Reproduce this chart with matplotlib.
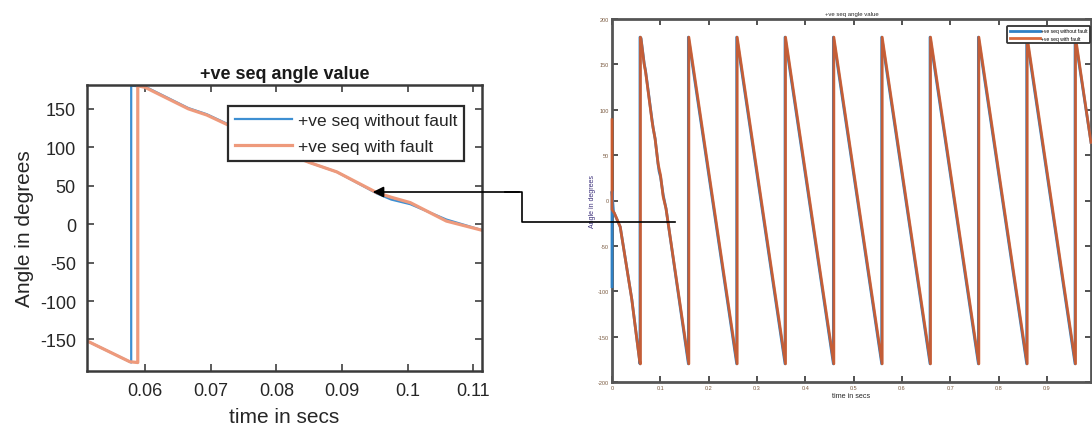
import matplotlib
matplotlib.use("Agg")
import matplotlib.pyplot as plt
from matplotlib.lines import Line2D
from matplotlib.patches import FancyArrowPatch

plt.rcParams['font.family'] = ['Liberation Sans', 'DejaVu Sans']
plt.rcParams['axes.unicode_minus'] = False

# zoomed-in window (left panel)
zoom_t_blue = [0.0512, 0.0577, 0.0579, 0.0579, 0.0600, 0.0666, 0.0694, 0.0724, 0.0800, 0.0830,
               0.0851, 0.0892, 0.0953, 0.0975, 0.1004, 0.1059, 0.1118]
zoom_v_blue = [-152, -179, -180, 180, 179, 151, 143, 131, 100, 88, 80, 68, 40, 32, 26, 6, -9]
zoom_t_fault = [0.0512, 0.0577, 0.0589, 0.0589, 0.0600, 0.0666, 0.0694, 0.0724, 0.0800, 0.0830,
                0.0851, 0.0892, 0.0953, 0.0975, 0.1004, 0.1059, 0.1118]
zoom_v_fault = [-152, -179, -180, 180, 178, 150, 142, 130, 99, 87, 80, 68, 41, 35, 28, 4, -9]

# start-up transient of the full run (right panel)
start_t_blue = [0.0, 0.0, 0.003, 0.017, 0.041]
start_v_blue = [-95, 10, -12, -29, -109]
start_t_fault = [0.0, 0.0, 0.005, 0.017, 0.041]
start_v_fault = [89, -10, -14, -29, -109]

# later wrap-around instants (angle jumps -180 -> 180)
jumps_blue = [0.158, 0.258, 0.358, 0.458, 0.558, 0.658, 0.758, 0.858, 0.958]
jumps_fault = [0.159, 0.259, 0.359, 0.459, 0.559, 0.659, 0.759, 0.859, 0.959]
trough, peak = -180, 180
end_t, end_v = 0.991, 64

labels = ['+ve seq without fault', '+ve seq with fault']


def full_series(st, sv, zt, zv, jumps):
    t = list(st) + list(zt)
    v = list(sv) + list(zv)
    for tj in jumps:
        t += [tj, tj]
        v += [trough, peak]
    t.append(end_t)
    v.append(end_v)
    return t, v


W, H = 1092, 435


def fx(px):
    return px / W


def fy(py):
    return 1 - py / H


fig = plt.figure(figsize=(W / 100, H / 100), dpi=100)
txt = '#262626'

# ---- left: zoomed view
ax = fig.add_axes([fx(87), fy(372), 395 / W, 286 / H])
ax.plot(zoom_t_blue, zoom_v_blue, color='#3d8fd2', lw=1.6, label=labels[0])
ax.plot(zoom_t_fault, zoom_v_fault, color='#ee9a7c', lw=2.3, label=labels[1])
ax.set_xlim(0.05117, 0.11132)
ax.set_ylim(-191, 181)
ax.set_xticks([0.06, 0.07, 0.08, 0.09, 0.1, 0.11])
ax.set_xticklabels(['0.06', '0.07', '0.08', '0.09', '0.1', '0.11'])
ax.set_yticks([-150, -100, -50, 0, 50, 100, 150])
ax.tick_params(direction='in', top=True, right=True, length=5, width=1.2,
               labelsize=13, pad=8, colors='#404040', labelcolor=txt)
for s in ax.spines.values():
    s.set_linewidth(1.8)
    s.set_color('#3a3a3a')
ax.set_title('+ve seq angle value', fontsize=13, fontweight='bold', color='#1a1a1a', pad=5)
ax.set_xlabel('time in secs', fontsize=15, color=txt, labelpad=6)
ax.set_ylabel('Angle in degrees', fontsize=15, color=txt, labelpad=4)
leg = ax.legend(loc='upper right', bbox_to_anchor=(fx(464), fy(107)),
                bbox_transform=fig.transFigure, borderaxespad=0,
                fontsize=12.5, handlelength=3.3, handletextpad=0.3,
                labelspacing=0.6, borderpad=0.4, fancybox=False, framealpha=1)
leg.get_frame().set_edgecolor('#2a2a2a')
leg.get_frame().set_linewidth(1.6)
for t in leg.get_texts():
    t.set_color(txt)

# ---- right: whole run
bt, bv = full_series(start_t_blue, start_v_blue, zoom_t_blue, zoom_v_blue, jumps_blue)
ft, fv = full_series(start_t_fault, start_v_fault, zoom_t_fault, zoom_v_fault, jumps_fault)

ax2 = fig.add_axes([fx(612), fy(383), 479 / W, 363 / H])
ax2.plot(bt, bv, color='#2f80c4', lw=2.0, label=labels[0], zorder=3, clip_on=False)
ax2.plot(ft, fv, color='#d45a28', lw=2.0, alpha=0.9, label=labels[1], zorder=3, clip_on=False)
ax2.set_xlim(0, 0.991)
ax2.set_ylim(-200, 200)
ax2.set_xticks([0, 0.1, 0.2, 0.3, 0.4, 0.5, 0.6, 0.7, 0.8, 0.9])
ax2.set_xticklabels(['0', '0.1', '0.2', '0.3', '0.4', '0.5', '0.6', '0.7', '0.8', '0.9'])
ax2.set_yticks([-200, -150, -100, -50, 0, 50, 100, 150, 200])
ax2.tick_params(direction='in', top=True, right=True, length=4, width=1.2,
                labelsize=4, pad=2.5, colors='#333333', labelcolor='#7a5a40')
for s in ax2.spines.values():
    s.set_linewidth(2.0)
    s.set_color('#555555')
ax2.set_title('+ve seq angle value', fontsize=4.3, color=txt, pad=3)
ax2.set_xlabel('time in secs', fontsize=5.2, color=txt, labelpad=1)
ax2.set_ylabel('Angle in degrees', fontsize=5, color='#3b2f7a', labelpad=1)
leg2 = ax2.legend(loc='upper right', bbox_to_anchor=(fx(1090), fy(27)),
                  bbox_transform=fig.transFigure, borderaxespad=0,
                  fontsize=3.6, handlelength=6, handletextpad=0.3,
                  labelspacing=0.45, borderpad=0.5, fancybox=True, framealpha=1)
leg2.get_frame().set_edgecolor('#333333')
leg2.get_frame().set_linewidth(1.3)
leg2.set_zorder(5)

# ---- connector arrow between the two panels
fig.add_artist(Line2D([fx(675), fx(522), fx(522), fx(505)], [fy(223), fy(223), fy(193), fy(193)],
                      transform=fig.transFigure, color='black', lw=1.2, zorder=10))
fig.add_artist(FancyArrowPatch((fx(522), fy(193)), (fx(370), fy(193)),
                               transform=fig.transFigure, arrowstyle='-|>',
                               mutation_scale=16, color='black', lw=1.2, zorder=10))

fig.savefig('out.png', dpi=100)
